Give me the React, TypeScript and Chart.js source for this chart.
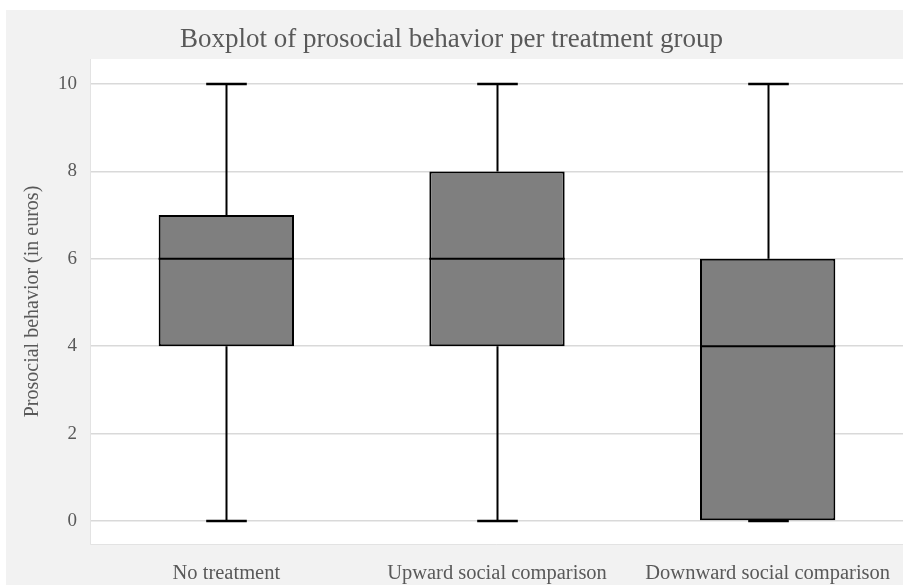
import React, { useEffect, useRef } from "react";
import { Chart, registerables } from "chart.js";

Chart.register(...registerables);

const categories = ["No treatment", "Upward social comparison", "Downward social comparison"];
const mins = [0, 0, 0];
const q1s = [4, 4, 0];
const medians = [6, 6, 4];
const q3s = [7, 8, 6];
const maxs = [10, 10, 10];
const yTicks = [0, 2, 4, 6, 8, 10];

const SERIF = "'Liberation Serif', 'Times New Roman', serif";
const TEXT = "#595959";

const bgPlugin = {
  id: "bgPlugin",
  beforeDraw(chart: any) {
    const { ctx, chartArea } = chart;
    ctx.save();
    ctx.fillStyle = "#ffffff";
    ctx.fillRect(0, 0, chart.width, chart.height);
    ctx.fillStyle = "#f2f2f2";
    ctx.fillRect(6, 10, chart.width - 6, chart.height - 11);
    ctx.fillStyle = "#ffffff";
    ctx.fillRect(chartArea.left, chartArea.top, chartArea.right - chartArea.left, chartArea.bottom - chartArea.top);
    ctx.strokeStyle = "#e3e3e3";
    ctx.lineWidth = 1;
    ctx.beginPath();
    ctx.moveTo(chartArea.left - 0.5, chartArea.top);
    ctx.lineTo(chartArea.left - 0.5, chartArea.bottom + 0.5);
    ctx.lineTo(chartArea.right, chartArea.bottom + 0.5);
    ctx.stroke();
    ctx.restore();
  },
};

const whiskerPlugin = {
  id: "whiskerPlugin",
  beforeDatasetsDraw(chart: any) {
    const { ctx } = chart;
    const xs = chart.scales.x;
    const ys = chart.scales.y;
    const catW = (xs.right - xs.left) / categories.length;
    const capW = catW * 0.15;
    ctx.save();
    ctx.strokeStyle = "#000000";
    categories.forEach((_, i) => {
      const cx = Math.round(xs.getPixelForValue(i)) + 0.5;
      const yMin = ys.getPixelForValue(mins[i]);
      const yMax = ys.getPixelForValue(maxs[i]);
      const yQ1 = ys.getPixelForValue(q1s[i]);
      const yQ3 = ys.getPixelForValue(q3s[i]);
      ctx.lineWidth = 2;
      ctx.beginPath();
      ctx.moveTo(cx, yMax);
      ctx.lineTo(cx, yQ3);
      ctx.moveTo(cx, yQ1);
      ctx.lineTo(cx, yMin);
      ctx.stroke();
      ctx.lineWidth = 2.5;
      ctx.beginPath();
      ctx.moveTo(cx - capW / 2, yMax);
      ctx.lineTo(cx + capW / 2, yMax);
      ctx.moveTo(cx - capW / 2, yMin);
      ctx.lineTo(cx + capW / 2, yMin);
      ctx.stroke();
    });
    ctx.restore();
  },
  afterDatasetsDraw(chart: any) {
    const { ctx } = chart;
    const xs = chart.scales.x;
    const ys = chart.scales.y;
    const meta = chart.getDatasetMeta(0);
    ctx.save();
    ctx.strokeStyle = "#000000";
    ctx.lineWidth = 2;
    categories.forEach((_, i) => {
      const bar = meta.data[i] as any;
      const half = bar.width / 2;
      const cx = xs.getPixelForValue(i);
      const y = ys.getPixelForValue(medians[i]);
      ctx.beginPath();
      ctx.moveTo(cx - half, y);
      ctx.lineTo(cx + half, y);
      ctx.stroke();
    });
    ctx.restore();
  },
};

export default function App() {
  const ref = useRef<HTMLCanvasElement>(null);
  useEffect(() => {
    if (!ref.current) return;
    const chart = new Chart(ref.current, {
      type: "bar",
      data: {
        labels: categories,
        datasets: [
          {
            data: categories.map((_, i) => [q1s[i], q3s[i]]) as any,
            backgroundColor: "#7f7f7f",
            borderColor: "#000000",
            borderWidth: 2,
            borderSkipped: false,
            barPercentage: 0.5,
            categoryPercentage: 1,
          },
        ],
      },
      options: {
        animation: false,
        responsive: false,
        maintainAspectRatio: false,
        layout: { padding: 0 },
        plugins: {
          legend: { display: false },
          tooltip: { enabled: false },
          title: {
            display: true,
            text: "Boxplot of prosocial behavior per treatment group",
            color: TEXT,
            font: { family: SERIF, size: 27, weight: "normal" },
            padding: { top: 23.5, bottom: 3.1 },
          },
        },
        scales: {
          x: {
            grid: { display: false, drawTicks: false },
            border: { display: false },
            ticks: { color: TEXT, font: { family: SERIF, size: 20.5 }, padding: 17, maxRotation: 0, autoSkip: false },
            afterFit(scale: any) {
              scale.height = 42;
              scale.paddingLeft = 0;
              scale.paddingRight = 0;
            },
          },
          y: {
            min: -0.526,
            max: 10.572,
            afterBuildTicks(scale: any) {
              scale.ticks = yTicks.map((v) => ({ value: v }));
            },
            grid: { color: "#d9d9d9", lineWidth: 1.5, drawTicks: false },
            border: { display: false },
            ticks: { color: TEXT, font: { family: SERIF, size: 19 }, padding: 14 },
            title: {
              display: true,
              text: "Prosocial behavior (in euros)",
              color: TEXT,
              font: { family: SERIF, size: 20 },
              padding: { top: 21, bottom: 0 },
            },
            afterFit(scale: any) {
              scale.width = 91;
              scale.paddingTop = 0;
              scale.paddingBottom = 0;
            },
          },
        },
      },
      plugins: [bgPlugin, whiskerPlugin],
    });
    return () => chart.destroy();
  }, []);
  return (
    <div style={{ position: "absolute", left: 0, top: 0, width: 903, height: 586 }}>
      <canvas ref={ref} width={903} height={586} style={{ display: "block", width: 903, height: 586 }} />
    </div>
  );
}
